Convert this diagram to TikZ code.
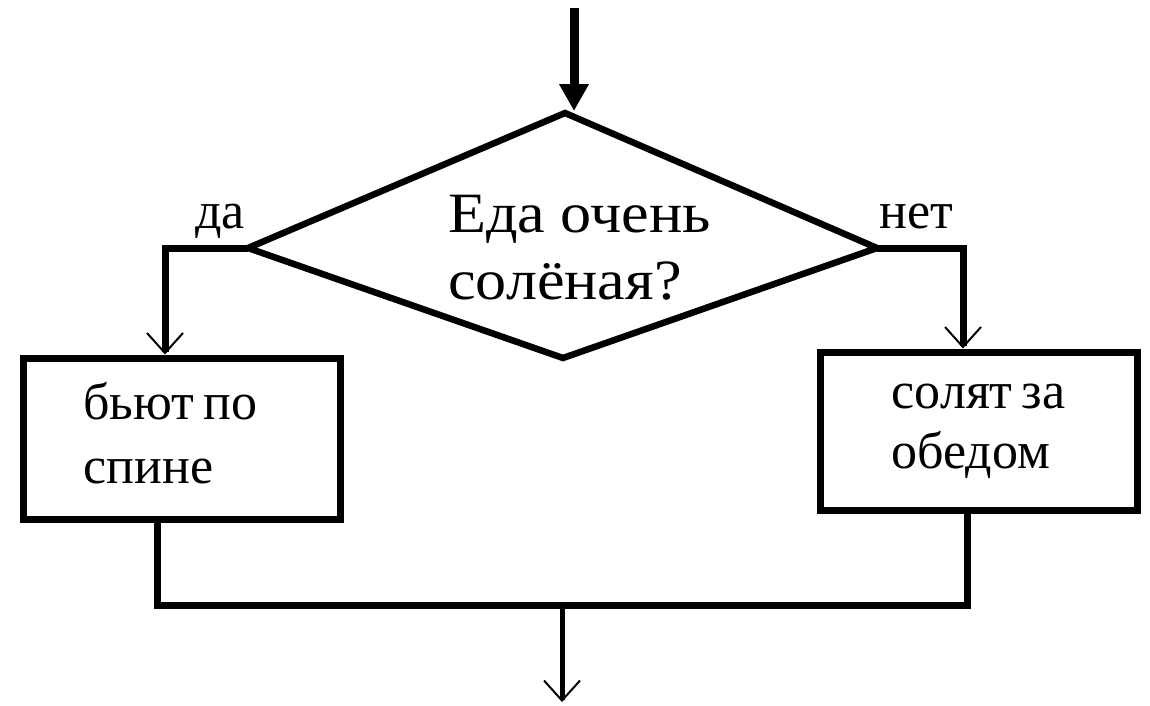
\documentclass[tikz,border=0pt]{standalone}
\usepackage{fontspec}
\setmainfont{Liberation Serif}[WordSpace=0.7]
\newfontfamily\widefont{Liberation Serif}[FakeStretch=1.09]
\usetikzlibrary{arrows.meta}
\tikzset{
  flow/.style={line width=7pt, line join=miter, line cap=butt},
  openarrow/.style={-{Straight Barb[length=20pt,width=36pt,line width=2pt]}},
  box/.style={draw, line width=7pt, minimum width=317pt, align=left, inner sep=0pt,
    font=\fontsize{52}{64}\selectfont},
  lbl/.style={inner sep=0pt, font=\fontsize{52}{60}\selectfont},
}
\begin{document}
\begin{tikzpicture}[x=1pt, y=-1pt]
\useasboundingbox (0,0) rectangle (1150,705);
% diamond
\coordinate (dtop) at (565,113);
\coordinate (dleft) at (248,248);
\coordinate (dright) at (877,248);
\coordinate (dbot) at (563,358);
\draw[line width=6.5pt, line join=miter] (dtop) -- (dright) -- (dbot) -- (dleft) -- cycle;
\node[anchor=west, inner sep=0pt, align=left, font=\widefont\fontsize{57}{67}\selectfont] (q) at (448,247.5) {Еда очень\\солёная?};
% incoming arrow
\coordinate (in) at (574,8);
\draw[line width=9pt, -{Triangle[length=27pt,width=28pt]}] (in) -- (574,111);
% boxes
\node[box, minimum height=161pt] (lbox) at (181.5,438.5)
  {бьют по\hspace*{22pt}\\спине\rule[-12pt]{0pt}{12pt}};
\node[box, minimum height=158pt] (rbox) at (978.5,431)
  {солят за\\[-4pt]обедом};
% branch labels
\node[lbl, anchor=base] (yes) at (220,228) {да};
\node[lbl, anchor=base] (no) at (916,228) {нет};
% branches
\coordinate (lc) at (165,248);
\coordinate (rc) at (963,248);
\draw[flow, openarrow] (dleft) -- (lc) -- (lc |- lbox.north);
\draw[flow, openarrow] (dright) -- (rc) -- (rc |- rbox.north);
% merge
\coordinate (jl) at (157,605);
\coordinate (jr) at (967,605);
\coordinate (jm) at (562,605);
\coordinate (out) at (562,702);
\draw[flow] (lbox.south -| jl) -- (jl) -- (jr) -- (rbox.south -| jr);
\draw[line width=5pt, openarrow] (jm) -- (out);
\end{tikzpicture}
\end{document}
